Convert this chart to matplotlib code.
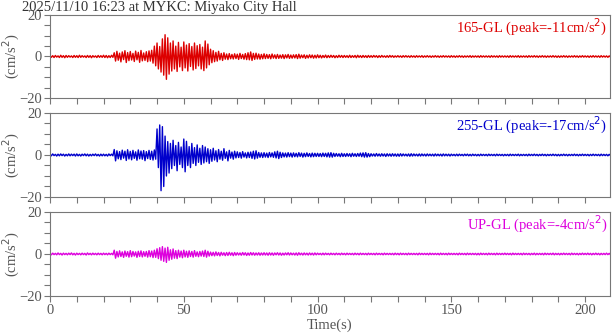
import numpy as np
import matplotlib
matplotlib.use("Agg")
import matplotlib.pyplot as plt
from matplotlib.ticker import MultipleLocator

plt.rcParams['font.family'] = ['Liberation Serif', 'DejaVu Serif']

title = "2025/11/10 16:23 at MYKC: Miyako City Hall"
names = ["165-GL", "255-GL", "UP-GL"]
peaks = [-11, -17, -4]
colors = ['#dd0000', '#0000cc', '#dd00dd']

# per-second max / min of each trace (cm/s^2), t = 0 .. 209 s
hi_165 = [
    0.5, 0.4, 0.5, 0.3, 0.6, 0.4, 0.5, 0.4, 0.3, 0.5,
    0.4, 0.6, 0.4, 0.3, 0.5, 0.4, 0.4, 0.3, 0.5, 0.4,
    0.6, 0.5, 0.4, 0.6, 1.8, 2.5, 1.6, 2.2, 2.8, 1.9,
    2.4, 1.5, 2.6, 2.0, 2.9, 1.7, 2.3, 2.7, 3.0, 5.0,
    6.5, 4.8, 8.5, 10.5, 9.0, 6.5, 7.5, 5.0, 6.8, 4.5,
    7.0, 5.5, 6.2, 4.8, 6.5, 5.2, 5.8, 4.5, 7.5, 6.0,
    3.5, 2.8, 2.0, 2.5, 1.5, 1.8, 1.2, 1.4, 1.0, 1.3,
    1.1, 1.5, 1.0, 1.4, 1.8, 2.2, 1.5, 1.6, 1.2, 1.0,
    1.3, 1.0, 0.9, 1.2, 0.8, 1.0, 0.7, 0.9, 0.8, 1.0,
    0.7, 0.8, 0.9, 1.1, 0.7, 0.8, 0.6, 0.8, 0.7, 0.6,
    0.8, 0.6, 0.5, 0.7, 0.5, 0.6, 0.5, 0.4, 0.6, 0.5,
    0.5, 0.4, 0.6, 0.4, 0.5, 0.6, 0.4, 0.5, 0.4, 0.5,
    0.4, 0.5, 0.4, 0.4, 0.5, 0.3, 0.4, 0.5, 0.4, 0.3,
    0.4, 0.3, 0.4, 0.4, 0.3, 0.4, 0.3, 0.4, 0.3, 0.4,
    0.3, 0.4, 0.3, 0.3, 0.4, 0.3, 0.3, 0.4, 0.3, 0.3,
    0.4, 0.3, 0.3, 0.4, 0.3, 0.3, 0.3, 0.4, 0.3, 0.3,
    0.3, 0.4, 0.3, 0.3, 0.3, 0.4, 0.3, 0.3, 0.4, 0.3,
    0.3, 0.3, 0.4, 0.3, 0.3, 0.4, 0.3, 0.3, 0.3, 0.4,
    0.3, 0.4, 0.3, 0.3, 0.4, 0.3, 0.3, 0.3, 0.4, 0.3,
    0.3, 0.3, 0.4, 0.3, 0.3, 0.3, 0.4, 0.3, 0.3, 0.4,
    0.3, 0.3, 0.3, 0.4, 0.3, 0.3, 0.4, 0.3, 0.3, 0.3,
]
lo_165 = [
    -0.4, -0.5, -0.3, -0.5, -0.4, -0.6, -0.4, -0.3, -0.5, -0.4,
    -0.5, -0.4, -0.3, -0.5, -0.4, -0.6, -0.3, -0.5, -0.4, -0.4,
    -0.5, -0.6, -0.5, -0.4, -2.2, -1.8, -2.6, -1.5, -2.9, -2.0,
    -1.7, -2.4, -1.6, -2.8, -2.1, -1.9, -2.5, -2.2, -3.2, -4.5,
    -6.0, -7.5, -9.0, -11.0, -8.5, -7.0, -6.0, -7.2, -5.0, -6.8,
    -5.5, -7.0, -4.8, -6.5, -5.8, -4.5, -6.0, -6.8, -5.5, -4.0,
    -3.0, -2.5, -2.2, -1.6, -1.9, -1.3, -1.5, -1.1, -1.2, -1.0,
    -1.4, -1.0, -1.3, -1.5, -1.6, -1.9, -1.4, -1.2, -1.3, -1.1,
    -1.0, -0.9, -1.1, -0.8, -1.0, -0.9, -0.8, -1.0, -0.7, -0.9,
    -0.8, -0.7, -1.0, -0.8, -0.6, -0.9, -0.7, -0.6, -0.8, -0.7,
    -0.6, -0.7, -0.5, -0.6, -0.5, -0.4, -0.6, -0.5, -0.4, -0.5,
    -0.4, -0.5, -0.5, -0.4, -0.6, -0.4, -0.5, -0.4, -0.5, -0.4,
    -0.4, -0.3, -0.5, -0.4, -0.3, -0.4, -0.4, -0.3, -0.4, -0.3,
    -0.3, -0.4, -0.3, -0.3, -0.4, -0.3, -0.4, -0.3, -0.3, -0.4,
    -0.3, -0.3, -0.4, -0.3, -0.3, -0.4, -0.3, -0.3, -0.3, -0.4,
    -0.3, -0.4, -0.3, -0.3, -0.4, -0.3, -0.3, -0.4, -0.3, -0.3,
    -0.4, -0.3, -0.3, -0.3, -0.4, -0.3, -0.3, -0.4, -0.3, -0.3,
    -0.3, -0.4, -0.3, -0.3, -0.3, -0.4, -0.3, -0.3, -0.4, -0.3,
    -0.3, -0.3, -0.4, -0.3, -0.3, -0.4, -0.3, -0.3, -0.3, -0.4,
    -0.4, -0.3, -0.3, -0.4, -0.3, -0.3, -0.3, -0.4, -0.3, -0.3,
    -0.3, -0.4, -0.3, -0.3, -0.3, -0.4, -0.3, -0.3, -0.4, -0.3,
]
hi_255 = [
    0.4, 0.5, 0.3, 0.4, 0.5, 0.4, 0.3, 0.5, 0.4, 0.4,
    0.5, 0.3, 0.4, 0.5, 0.4, 0.3, 0.4, 0.5, 0.3, 0.4,
    0.4, 0.3, 0.5, 0.4, 2.6, 2.0, 1.6, 2.3, 1.8, 2.5,
    1.7, 2.2, 1.5, 2.4, 1.9, 2.1, 1.6, 2.2, 1.8, 2.4,
    12.4, 14.3, 13.5, 9.0, 6.4, 5.5, 7.0, 4.5, 6.0, 3.8,
    7.6, 6.5, 4.0, 5.5, 3.5, 4.8, 3.2, 4.5, 3.8, 3.0,
    2.5, 3.2, 2.0, 2.6, 1.8, 3.0, 1.5, 2.2, 1.4, 1.8,
    1.5, 1.2, 1.6, 1.0, 1.3, 1.4, 1.8, 2.0, 1.2, 1.0,
    1.1, 0.9, 1.2, 1.0, 1.5, 1.8, 1.3, 1.0, 0.9, 1.1,
    0.9, 1.0, 0.8, 1.1, 0.9, 0.8, 1.0, 0.7, 0.9, 0.8,
    0.8, 0.7, 0.9, 0.8, 1.0, 1.1, 0.8, 0.7, 0.6, 0.8,
    0.6, 0.7, 0.6, 0.8, 0.6, 0.7, 0.9, 1.0, 1.1, 0.7,
    0.6, 0.5, 0.7, 0.5, 0.6, 0.5, 0.6, 0.5, 0.6, 0.5,
    0.5, 0.6, 0.5, 0.4, 0.5, 0.6, 0.5, 0.4, 0.5, 0.5,
    0.4, 0.5, 0.4, 0.4, 0.5, 0.4, 0.4, 0.5, 0.4, 0.4,
    0.4, 0.3, 0.4, 0.4, 0.3, 0.4, 0.4, 0.3, 0.4, 0.3,
    0.3, 0.4, 0.3, 0.3, 0.4, 0.3, 0.3, 0.4, 0.3, 0.3,
    0.3, 0.3, 0.4, 0.3, 0.3, 0.4, 0.3, 0.3, 0.3, 0.4,
    0.3, 0.4, 0.3, 0.3, 0.4, 0.3, 0.3, 0.3, 0.4, 0.3,
    0.3, 0.3, 0.4, 0.3, 0.3, 0.3, 0.4, 0.3, 0.3, 0.4,
    0.3, 0.3, 0.3, 0.4, 0.3, 0.3, 0.4, 0.3, 0.3, 0.3,
]
lo_255 = [
    -0.4, -0.3, -0.5, -0.4, -0.3, -0.5, -0.4, -0.4, -0.3, -0.5,
    -0.4, -0.5, -0.3, -0.4, -0.5, -0.4, -0.3, -0.4, -0.5, -0.4,
    -0.4, -0.5, -0.3, -0.4, -2.8, -1.8, -2.2, -1.5, -2.6, -1.9,
    -2.3, -1.6, -2.5, -1.8, -2.0, -2.7, -1.7, -2.1, -2.4, -2.0,
    -6.0, -17.0, -15.0, -10.0, -8.6, -6.5, -5.0, -7.5, -4.5, -6.0,
    -8.0, -5.0, -6.0, -4.0, -5.0, -3.5, -4.5, -3.8, -3.2, -4.0,
    -3.0, -2.4, -3.2, -2.0, -2.5, -1.6, -2.8, -1.5, -2.0, -1.4,
    -1.2, -1.5, -1.0, -1.4, -1.2, -1.6, -1.9, -1.5, -1.1, -1.2,
    -1.0, -1.2, -0.9, -1.1, -1.4, -1.7, -1.2, -0.9, -1.0, -0.8,
    -1.0, -0.8, -0.9, -0.7, -1.0, -0.8, -0.7, -0.9, -0.8, -0.7,
    -0.7, -0.8, -0.7, -0.9, -1.0, -1.0, -0.7, -0.6, -0.8, -0.7,
    -0.7, -0.6, -0.8, -0.6, -0.7, -0.6, -0.8, -1.0, -1.0, -0.8,
    -0.5, -0.6, -0.5, -0.6, -0.5, -0.7, -0.5, -0.6, -0.5, -0.6,
    -0.6, -0.5, -0.4, -0.5, -0.6, -0.5, -0.4, -0.5, -0.5, -0.4,
    -0.5, -0.4, -0.4, -0.5, -0.4, -0.4, -0.5, -0.4, -0.4, -0.5,
    -0.3, -0.4, -0.4, -0.3, -0.4, -0.3, -0.4, -0.4, -0.3, -0.4,
    -0.4, -0.3, -0.3, -0.4, -0.3, -0.3, -0.4, -0.3, -0.3, -0.4,
    -0.3, -0.4, -0.3, -0.3, -0.3, -0.4, -0.3, -0.3, -0.4, -0.3,
    -0.3, -0.3, -0.4, -0.3, -0.3, -0.4, -0.3, -0.3, -0.3, -0.4,
    -0.4, -0.3, -0.3, -0.4, -0.3, -0.3, -0.3, -0.4, -0.3, -0.3,
    -0.3, -0.4, -0.3, -0.3, -0.3, -0.4, -0.3, -0.3, -0.4, -0.3,
]
hi_up = [
    0.3, 0.4, 0.3, 0.5, 0.3, 0.4, 0.3, 0.4, 0.5, 0.3,
    0.4, 0.3, 0.4, 0.3, 0.5, 0.3, 0.4, 0.3, 0.4, 0.3,
    0.4, 0.3, 0.4, 0.3, 1.8, 1.2, 1.5, 1.0, 1.4, 1.1,
    1.6, 1.2, 1.0, 1.3, 1.5, 1.1, 1.2, 1.6, 1.4, 1.8,
    2.5, 3.0, 3.5, 2.8, 3.2, 2.0, 2.4, 1.6, 1.8, 1.4,
    1.8, 1.3, 1.5, 1.2, 1.6, 1.0, 1.2, 1.4, 1.8, 1.3,
    0.9, 0.8, 1.0, 0.7, 0.8, 0.6, 0.7, 0.8, 0.6, 0.7,
    0.6, 0.5, 0.7, 0.6, 0.5, 0.7, 0.6, 0.5, 0.6, 0.5,
    0.6, 0.5, 0.6, 0.5, 0.5, 0.6, 0.5, 0.4, 0.5, 0.6,
    0.5, 0.4, 0.5, 0.6, 0.4, 0.5, 0.4, 0.5, 0.4, 0.5,
    0.4, 0.3, 0.4, 0.4, 0.3, 0.4, 0.3, 0.4, 0.3, 0.4,
    0.3, 0.4, 0.3, 0.3, 0.4, 0.3, 0.4, 0.3, 0.3, 0.4,
    0.3, 0.3, 0.4, 0.3, 0.3, 0.4, 0.3, 0.3, 0.3, 0.4,
    0.3, 0.4, 0.3, 0.3, 0.4, 0.3, 0.3, 0.3, 0.4, 0.3,
    0.3, 0.3, 0.4, 0.3, 0.3, 0.3, 0.4, 0.3, 0.3, 0.4,
    0.3, 0.3, 0.3, 0.4, 0.3, 0.3, 0.4, 0.3, 0.3, 0.3,
    0.3, 0.4, 0.3, 0.3, 0.4, 0.3, 0.3, 0.4, 0.3, 0.3,
    0.4, 0.3, 0.3, 0.4, 0.3, 0.3, 0.3, 0.4, 0.3, 0.3,
    0.3, 0.4, 0.3, 0.3, 0.3, 0.4, 0.3, 0.3, 0.4, 0.3,
    0.3, 0.3, 0.4, 0.3, 0.3, 0.4, 0.3, 0.3, 0.3, 0.4,
    0.3, 0.4, 0.3, 0.3, 0.4, 0.3, 0.3, 0.3, 0.4, 0.3,
]
lo_up = [
    -0.4, -0.3, -0.4, -0.3, -0.5, -0.3, -0.4, -0.3, -0.4, -0.5,
    -0.3, -0.4, -0.3, -0.5, -0.3, -0.4, -0.3, -0.4, -0.3, -0.4,
    -0.3, -0.4, -0.3, -0.4, -2.0, -1.4, -1.2, -1.6, -1.1, -1.5,
    -1.3, -1.0, -1.6, -1.2, -1.4, -1.1, -1.5, -1.3, -1.7, -1.6,
    -2.2, -3.0, -3.5, -4.0, -3.0, -2.5, -2.0, -2.2, -1.5, -1.8,
    -1.4, -1.6, -1.2, -1.5, -1.1, -1.3, -1.0, -1.2, -1.5, -1.0,
    -0.8, -0.9, -0.7, -0.9, -0.6, -0.8, -0.7, -0.6, -0.8, -0.6,
    -0.5, -0.6, -0.5, -0.7, -0.6, -0.5, -0.6, -0.5, -0.6, -0.5,
    -0.5, -0.6, -0.5, -0.6, -0.4, -0.5, -0.6, -0.5, -0.4, -0.5,
    -0.4, -0.5, -0.6, -0.4, -0.5, -0.4, -0.5, -0.4, -0.5, -0.4,
    -0.3, -0.4, -0.4, -0.3, -0.4, -0.3, -0.4, -0.3, -0.4, -0.3,
    -0.4, -0.3, -0.3, -0.4, -0.3, -0.4, -0.3, -0.3, -0.4, -0.3,
    -0.3, -0.4, -0.3, -0.3, -0.4, -0.3, -0.3, -0.3, -0.4, -0.3,
    -0.4, -0.3, -0.3, -0.4, -0.3, -0.3, -0.3, -0.4, -0.3, -0.3,
    -0.3, -0.4, -0.3, -0.3, -0.3, -0.4, -0.3, -0.3, -0.4, -0.3,
    -0.3, -0.3, -0.4, -0.3, -0.3, -0.4, -0.3, -0.3, -0.3, -0.4,
    -0.4, -0.3, -0.3, -0.4, -0.3, -0.3, -0.4, -0.3, -0.3, -0.3,
    -0.3, -0.3, -0.4, -0.3, -0.3, -0.3, -0.4, -0.3, -0.3, -0.4,
    -0.3, -0.4, -0.3, -0.3, -0.4, -0.3, -0.3, -0.3, -0.4, -0.3,
    -0.4, -0.3, -0.3, -0.3, -0.4, -0.3, -0.3, -0.4, -0.3, -0.3,
    -0.3, -0.3, -0.4, -0.3, -0.3, -0.4, -0.3, -0.3, -0.3, -0.4,
]

his = [hi_165, hi_255, hi_up]
los = [lo_165, lo_255, lo_up]

grey = '#555555'
fig = plt.figure(figsize=(6.13, 3.34), dpi=100)
boxes = [(0.0816, 0.7066, 0.9135, 0.2485),
         (0.0816, 0.4102, 0.9135, 0.2515),
         (0.0816, 0.1138, 0.9135, 0.2515)]

for k in range(3):
    ax = fig.add_axes(boxes[k])
    hi = np.array(his[k])
    lo = np.array(los[k])
    sec = np.arange(len(hi))
    t = np.column_stack([sec, sec + 0.5]).ravel()
    y = np.column_stack([hi, lo]).ravel()
    ax.plot(t, y, color=colors[k], lw=1.0)
    ax.set_xlim(0, 209.3)
    ax.set_ylim(-20, 20)
    ax.xaxis.set_major_locator(MultipleLocator(50))
    ax.xaxis.set_minor_locator(MultipleLocator(10))
    ax.yaxis.set_major_locator(MultipleLocator(20))
    ax.yaxis.set_minor_locator(MultipleLocator(5))
    ax.tick_params(which='both', direction='out', length=4, width=0.8,
                   color='#777777', labelcolor=grey, labelsize=10.5, pad=2)
    for s in ax.spines.values():
        s.set_color('#777777')
        s.set_linewidth(0.8)
    if k < 2:
        ax.tick_params(labelbottom=False)
    ax.set_ylabel("(cm/s$^2$)", color=grey, fontsize=10.5, va='center')
    ax.yaxis.set_label_coords(-0.068, 0.5)
    ax.text(0.995, 0.975, "%s (peak=%dcm/s$^2$)" % (names[k], peaks[k]),
            transform=ax.transAxes, ha='right', va='top',
            color=colors[k], fontsize=10.5)
    if k == 2:
        ax.set_xlabel("Time(s)", color=grey, fontsize=10.5, labelpad=1)

fig.text(0.036, 0.998, title, ha='left', va='top', color='#333333', fontsize=10.5)

plt.savefig('out.png', dpi=100)
